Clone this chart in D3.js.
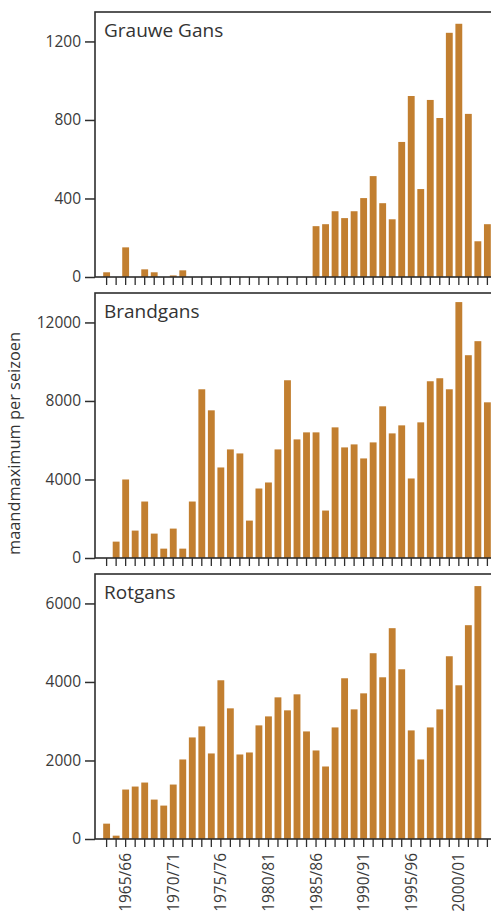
<!DOCTYPE html>
<html>
<head>
<meta charset="utf-8">
<script src="https://cdn.jsdelivr.net/npm/d3@7"></script>
<style>
  body { margin: 0; background: #fff; }
  svg { display: block; }
</style>
</head>
<body>
<svg id="chart" width="491" height="917"></svg>
<script>
// Seasons 1963/64 – 2003/04
const seasons = [
  "1963/64","1964/65","1965/66","1966/67","1967/68","1968/69","1969/70","1970/71",
  "1971/72","1972/73","1973/74","1974/75","1975/76","1976/77","1977/78","1978/79",
  "1979/80","1980/81","1981/82","1982/83","1983/84","1984/85","1985/86","1986/87",
  "1987/88","1988/89","1989/90","1990/91","1991/92","1992/93","1993/94","1994/95",
  "1995/96","1996/97","1997/98","1998/99","1999/00","2000/01","2001/02","2002/03",
  "2003/04"
];

// Monthly maximum per season
const grauweGans = [
  24, 0, 151, 0, 39, 24, 0, 8, 34, 0, 0, 0, 0, 0, 0, 0, 0, 0, 0, 0, 0, 0,
  259, 269, 335, 300, 335, 402, 514, 376, 294, 688, 922, 448, 902, 810,
  1244, 1290, 831, 182, 269
];
const brandgans = [
  0, 834, 4000, 1396, 2877, 1243, 477, 1498, 477, 2877, 8595, 7523, 4612, 5532,
  5327, 1906, 3540, 3847, 5532, 9055, 6042, 6400, 6400, 2417, 6655, 5634, 5787,
  5072, 5889, 7727, 6348, 6757, 4051, 6910, 9004, 9157, 8595, 13037, 10331,
  11046, 7931
];
const rotgans = [
  391, 85, 1260, 1336, 1438, 1004, 851, 1387, 2026, 2587, 2868, 2179, 4043, 3328,
  2153, 2204, 2894, 3123, 3608, 3277, 3685, 2740, 2255, 1847, 2842, 4094, 3302,
  3710, 4732, 4119, 5370, 4323, 2766, 2026, 2842, 3302, 4655, 3915, 5446, 6442,
  null
];

const speciesNames = ["Grauwe Gans", "Brandgans", "Rotgans"];
const grauweTicks = [0, 400, 800, 1200];
const brandTicks = [0, 4000, 8000, 12000];
const rotTicks = [0, 2000, 4000, 6000];
const yDomainMax = [1350, 13500, 6750];
const xTickLabels = ["1965/66","1970/71","1975/76","1980/81","1985/86","1990/91","1995/96","2000/01"];
const yTitle = "maandmaximum per seizoen";

const panels = [
  { name: speciesNames[0], values: grauweGans, ticks: grauweTicks, max: yDomainMax[0] },
  { name: speciesNames[1], values: brandgans, ticks: brandTicks, max: yDomainMax[1] },
  { name: speciesNames[2], values: rotgans, ticks: rotTicks, max: yDomainMax[2] }
];

const svg = d3.select("#chart");
const FONT = "'Open Sans', 'Noto Sans', sans-serif";
const INK = "#2e2e2e";
const BAR = "#c27f30";

const left = 95, right = 499;
const panelH = 265, panelPitch = 281, firstTop = 12;

const x = d3.scaleBand()
  .domain(seasons)
  .range([left, right])
  .paddingInner(0.28)
  .paddingOuter(0.86);

panels.forEach((p, i) => {
  const top = firstTop + i * panelPitch;
  const bottom = top + panelH;
  const y = d3.scaleLinear().domain([0, p.max]).range([bottom, top]);
  const g = svg.append("g");

  // bars
  g.selectAll("rect.bar")
    .data(seasons.map((s, k) => ({ s, v: p.values[k] })).filter(d => d.v != null && d.v > 0))
    .join("rect")
    .attr("class", "bar")
    .attr("x", d => x(d.s))
    .attr("width", x.bandwidth())
    .attr("y", d => y(d.v))
    .attr("height", d => y(0) - y(d.v))
    .attr("fill", BAR);

  // frame
  g.append("rect")
    .attr("x", left).attr("y", top)
    .attr("width", right - left).attr("height", panelH)
    .attr("fill", "none")
    .attr("stroke", INK)
    .attr("stroke-width", 1.6);

  // y axis
  const ya = g.append("g")
    .attr("transform", `translate(${left},0)`)
    .call(d3.axisLeft(y).tickValues(p.ticks).tickSize(10).tickSizeOuter(0).tickPadding(4).tickFormat(d3.format("d")));
  ya.select(".domain").remove();
  ya.selectAll("line").attr("stroke", INK).attr("stroke-width", 1.5);
  ya.selectAll("text")
    .attr("fill", "#3a3a3a")
    .style("font-family", FONT)
    .style("font-size", "15.5px");

  // x axis
  const last = i === panels.length - 1;
  const xa = g.append("g")
    .attr("transform", `translate(0,${bottom})`)
    .call(d3.axisBottom(x).tickSize(8).tickSizeOuter(0)
      .tickFormat(d => (last && xTickLabels.includes(d)) ? d : ""));
  xa.select(".domain").remove();
  xa.selectAll("line").attr("stroke", INK).attr("stroke-width", 1.3);
  xa.selectAll("text")
    .attr("fill", "#3a3a3a")
    .style("font-family", FONT)
    .style("font-size", "15.5px")
    .attr("transform", "rotate(-90)")
    .attr("x", -14)
    .attr("y", 0)
    .attr("dy", "0.36em")
    .style("text-anchor", "end");

  // species name
  g.append("text")
    .attr("x", 104)
    .attr("y", top + 24.5)
    .attr("fill", "#333")
    .style("font-family", FONT)
    .style("font-size", "19px")
    .text(p.name);
});

// shared y title
svg.append("text")
  .attr("transform", "translate(20,443.5) rotate(-90)")
  .attr("text-anchor", "middle")
  .attr("fill", "#333")
  .style("font-family", FONT)
  .style("font-size", "17px")
  .attr("textLength", 223)
  .attr("lengthAdjust", "spacingAndGlyphs")
  .text(yTitle);
</script>
</body>
</html>
